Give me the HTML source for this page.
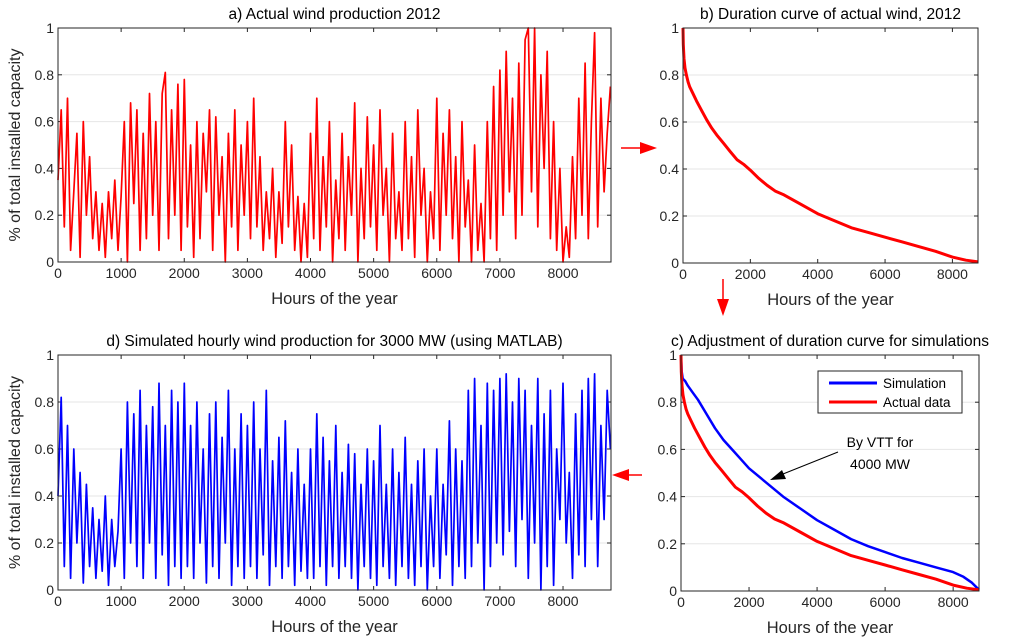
<!DOCTYPE html>
<html><head><meta charset="utf-8">
<style>
html,body{margin:0;padding:0;background:#fff;}
svg{display:block;font-family:"Liberation Sans",Arial,sans-serif;}
</style></head>
<body>
<svg id="fig" width="1024" height="642" viewBox="0 0 1024 642" xmlns="http://www.w3.org/2000/svg"></svg>
<script>
// ---- data ----
const windHoursStep = 50;
const actualWind = [
0.35,0.65,0.15,0.7,0.05,0.3,0.55,0.02,0.6,0.2,
0.45,0.1,0.3,0.05,0.25,0.02,0.3,0.1,0.35,0.05,
0.28,0.6,0.0,0.68,0.25,0.65,0.05,0.55,0.1,0.72,
0.2,0.6,0.05,0.72,0.81,0.1,0.65,0.2,0.76,0.05,
0.78,0.15,0.5,0.02,0.6,0.1,0.55,0.3,0.65,0.05,
0.62,0.2,0.45,0.0,0.55,0.15,0.65,0.05,0.5,0.2,
0.6,0.1,0.7,0.15,0.45,0.05,0.3,0.1,0.4,0.02,
0.3,0.08,0.6,0.15,0.5,0.05,0.28,0.0,0.25,0.02,
0.55,0.1,0.7,0.05,0.45,0.15,0.6,0.0,0.35,0.1,
0.55,0.05,0.45,0.2,0.68,0.0,0.4,0.1,0.62,0.15,
0.5,0.05,0.65,0.2,0.4,0.0,0.55,0.1,0.3,0.05,
0.6,0.1,0.45,0.02,0.65,0.2,0.4,0.0,0.3,0.1,
0.7,0.05,0.55,0.2,0.65,0.1,0.45,0.0,0.6,0.15,
0.35,0.0,0.5,0.05,0.25,0.0,0.6,0.1,0.75,0.05,
0.82,0.2,0.9,0.3,0.7,0.1,0.85,0.2,0.95,1.0,
0.3,1.0,0.15,0.8,0.4,0.9,0.1,0.6,0.05,0.4,
0.0,0.15,0.02,0.45,0.1,0.7,0.2,0.85,0.1,0.6,
0.98,0.15,0.7,0.3,0.55,0.75];
const simulatedWind = [
0.4,0.82,0.1,0.7,0.05,0.6,0.2,0.5,0.03,0.45,
0.1,0.35,0.05,0.3,0.08,0.4,0.02,0.3,0.1,0.25,
0.6,0.05,0.8,0.2,0.75,0.1,0.85,0.05,0.7,0.2,
0.78,0.05,0.88,0.15,0.7,0.02,0.85,0.1,0.8,0.05,
0.88,0.1,0.7,0.05,0.8,0.2,0.6,0.03,0.75,0.1,
0.8,0.05,0.65,0.2,0.85,0.02,0.6,0.1,0.75,0.05,
0.7,0.1,0.8,0.05,0.6,0.15,0.85,0.02,0.55,0.1,
0.65,0.05,0.72,0.1,0.5,0.02,0.6,0.08,0.45,0.05,
0.6,0.05,0.75,0.1,0.65,0.02,0.55,0.1,0.7,0.05,
0.5,0.1,0.62,0.05,0.58,0.0,0.45,0.1,0.6,0.05,
0.55,0.02,0.7,0.1,0.45,0.05,0.6,0.02,0.5,0.1,
0.65,0.05,0.45,0.02,0.55,0.1,0.6,0.0,0.4,0.1,
0.6,0.05,0.45,0.15,0.72,0.02,0.6,0.1,0.55,0.05,
0.85,0.1,0.9,0.2,0.7,0.0,0.88,0.1,0.85,0.2,
0.9,0.15,0.92,0.25,0.8,0.1,0.9,0.3,0.85,0.05,
0.7,0.2,0.9,0.0,0.75,0.1,0.85,0.02,0.6,0.3,
0.88,0.2,0.5,0.05,0.75,0.15,0.85,0.1,0.9,0.3,
0.92,0.1,0.7,0.3,0.85,0.6];
const durActualX = [0,10,30,60,100,150,200,300,400,550,700,850,1000,1200,1400,1600,1800,2000,2250,2500,2750,3000,3500,4000,4500,5000,5500,6000,6500,7000,7500,8000,8400,8760];
const durActualY = [1,0.93,0.87,0.83,0.8,0.77,0.75,0.72,0.69,0.65,0.61,0.575,0.545,0.51,0.475,0.44,0.42,0.395,0.36,0.33,0.305,0.29,0.25,0.21,0.18,0.15,0.13,0.11,0.09,0.07,0.05,0.025,0.012,0.005];
const durSimX = [0,20,50,120,200,350,500,750,1000,1250,1500,1750,2000,2500,3000,3500,4000,4500,5000,5500,6000,6500,7000,7500,8000,8300,8550,8760];
const durSimY = [1,0.93,0.9,0.89,0.87,0.84,0.81,0.75,0.69,0.64,0.6,0.56,0.52,0.46,0.4,0.35,0.3,0.26,0.22,0.19,0.165,0.14,0.12,0.1,0.08,0.06,0.035,0.005];
const xTicksA = [0,1000,2000,3000,4000,5000,6000,7000,8000];
const xTicksB = [0,2000,4000,6000,8000];
const yTicks = [0,0.2,0.4,0.6,0.8,1];
const yTickLabels = ["0","0.2","0.4","0.6","0.8","1"];

const NS = "http://www.w3.org/2000/svg";
const svg = document.getElementById('fig');
function mk(tag, attrs, parent){
  const e = document.createElementNS(NS, tag);
  for (const k in attrs) e.setAttribute(k, attrs[k]);
  (parent||svg).appendChild(e);
  return e;
}
function axes(name, L, T, R, B, xmax, xticks, title, ylab){
  const g = mk('g', {});
  
  
  const sx = v => L + v / xmax * (R - L);
  const sy = v => B - v * (B - T);
  mk('rect', {x:L, y:T, width:R-L, height:B-T, fill:'#fff'}, g);
  yTicks.forEach((t,i) => {
    if (t>0 && t<1) {
      const gl = mk('line', {x1:L, x2:R, y1:sy(t), y2:sy(t), stroke:'#e6e6e6', 'stroke-width':1}, g);
      
      
    }
    mk('line', {x1:L, x2:L+4, y1:sy(t), y2:sy(t), stroke:'#262626'}, g);
    mk('line', {x1:R-4, x2:R, y1:sy(t), y2:sy(t), stroke:'#262626'}, g);
    const tl = mk('text', {x:L-4, y:sy(t)+5, 'text-anchor':'end', 'font-size':14, fill:'#262626'}, g);
    tl.textContent = yTickLabels[i];
    
    
  });
  xticks.forEach(t => {
    mk('line', {x1:sx(t), x2:sx(t), y1:B, y2:B-4, stroke:'#262626'}, g);
    mk('line', {x1:sx(t), x2:sx(t), y1:T, y2:T+4, stroke:'#262626'}, g);
    const tl = mk('text', {x:sx(t), y:B+16, 'text-anchor':'middle', 'font-size':14, fill:'#262626'}, g);
    tl.textContent = String(t);
    
    
  });
  const tt = mk('text', {x:(L+R)/2, y:T-9, 'text-anchor':'middle', 'font-size':15.5, fill:'#000'}, g);
  tt.textContent = title;
  
  
  const xl = mk('text', {x:(L+R)/2, y:B+42, 'text-anchor':'middle', 'font-size':16.5, fill:'#262626'}, g);
  xl.textContent = 'Hours of the year';
  
  
  if (ylab) {
    const yl = mk('text', {x:0, y:0, 'text-anchor':'middle', 'font-size':16, fill:'#262626', transform:`translate(20,${(T+B)/2}) rotate(-90)`}, g);
    yl.textContent = '% of total installed capacity';
    
    
  }
  return {g, sx, sy, L, T, R, B};
}
function frame(a){
  mk('rect', {x:a.L, y:a.T, width:a.R-a.L, height:a.B-a.T, fill:'none', stroke:'#262626', 'stroke-width':1}, a.g);
}
function series(a, xs, ys, color, w, name){
  const pts = xs.map((x,i) => a.sx(x).toFixed(1)+','+a.sy(ys[i]).toFixed(1)).join(' ');
  const p = mk('polyline', {points:pts, fill:'none', stroke:color, 'stroke-width':w, 'stroke-linejoin':'round'}, a.g);
  
  
}
const idxX = arr => arr.map((_,i) => i * windHoursStep);

const A = axes('panel-a', 58, 28, 611, 262, 8760, xTicksA, 'a) Actual wind production 2012', true);
series(A, idxX(actualWind), actualWind, '#ff0000', 1.7, 'actual-wind-line');
frame(A);

const Bp = axes('panel-b', 683, 28, 978, 263, 8760, xTicksB, 'b) Duration curve of actual wind, 2012', false);
series(Bp, durActualX, durActualY, '#ff0000', 3, 'actual-duration-curve');
frame(Bp);

const D = axes('panel-d', 58, 355, 611, 590, 8760, xTicksA, 'd) Simulated hourly wind production for 3000 MW (using MATLAB)', true);
series(D, idxX(simulatedWind), simulatedWind, '#0000ff', 1.7, 'simulated-wind-line');
frame(D);

const C = axes('panel-c', 681, 355, 979, 591, 8760, xTicksB, 'c) Adjustment of duration curve for simulations', false);
series(C, durSimX, durSimY, '#0000ff', 2.5, 'simulation-duration-curve');
series(C, durActualX, durActualY, '#ff0000', 3, 'actual-data-duration-curve');
frame(C);

// legend
const lg = mk('g', {});


mk('rect', {x:818, y:371, width:144, height:42, fill:'#fff', stroke:'#262626'}, lg);
mk('line', {x1:829, x2:877, y1:383, y2:383, stroke:'#0000ff', 'stroke-width':3}, lg);
mk('line', {x1:829, x2:877, y1:402, y2:402, stroke:'#ff0000', 'stroke-width':3}, lg);
const l1 = mk('text', {x:883, y:388, 'font-size':13.5, fill:'#000'}, lg); l1.textContent = 'Simulation';


const l2 = mk('text', {x:883, y:407, 'font-size':13.5, fill:'#000'}, lg); l2.textContent = 'Actual data';



// annotation
const an = mk('g', {});


const a1 = mk('text', {x:880, y:447, 'text-anchor':'middle', 'font-size':14, fill:'#000'}, an); a1.textContent = 'By VTT for';
const a2 = mk('text', {x:880, y:469, 'text-anchor':'middle', 'font-size':14, fill:'#000'}, an); a2.textContent = '4000 MW';
mk('line', {x1:838, y1:452, x2:778, y2:476, stroke:'#000', 'stroke-width':1}, an);
mk('polygon', {points:'770,480 782,470 786,479', fill:'#000'}, an);

// red process arrows
function arrow(name, x1,y1,x2,y2, head){
  const g = mk('g', {});
  
  
  mk('line', {x1, y1, x2, y2, stroke:'#ff0000', 'stroke-width':1.5}, g);
  mk('polygon', {points:head, fill:'#ff0000'}, g);
}
arrow('arrow-a-to-b', 621,148, 645,148, '657,148 640,142 640,154');
arrow('arrow-b-to-c', 723,279, 723,303, '723,316 717,299 729,299');
arrow('arrow-c-to-d', 642,475, 625,475, '612,475 629,469 629,481');
</script>
</body></html>
